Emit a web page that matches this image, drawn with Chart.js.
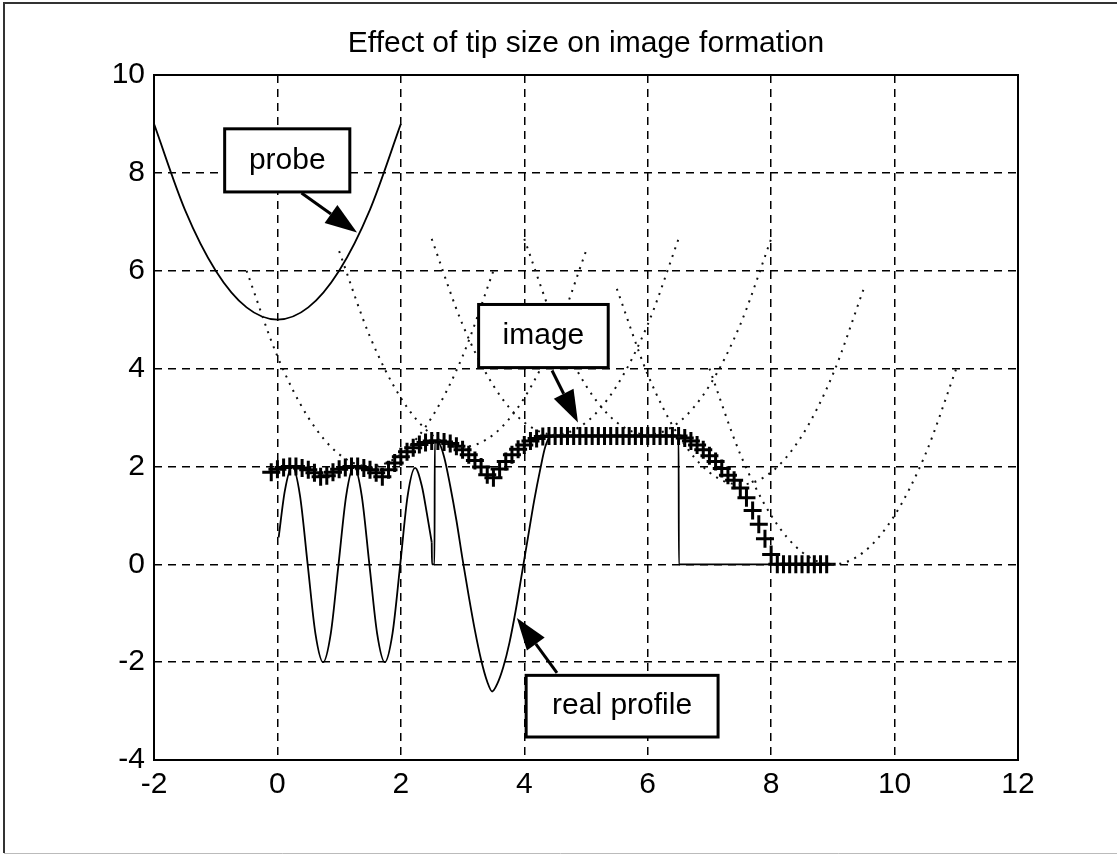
<!DOCTYPE html>
<html>
<head>
<meta charset="utf-8">
<script src="https://cdn.jsdelivr.net/npm/chart.js@4.4.1/dist/chart.umd.min.js"></script>
<style>
  html, body { margin: 0; padding: 0; background: #fff; }
  #wrap { width: 1119px; height: 855px; }
</style>
</head>
<body>
<div id="wrap"><canvas id="tip-chart"></canvas></div>
<script>
// probe drawn on its own (solid)
const probeX = [-2, -1.5, -1, -0.5, 0, 0.5, 1, 1.5, 2];
const probeY = [9, 7.25, 6, 5.25, 5, 5.25, 6, 7.25, 9];

// real surface profile, left part (three narrow ridges)
const profileAX = [0.02, 0.12, 0.24, 0.365, 0.49, 0.615, 0.74, 0.865, 0.99, 1.115, 1.24, 1.365, 1.49, 1.615, 1.74, 1.865, 1.99,
  2.11, 2.23, 2.34, 2.42, 2.5];
const profileAY = [0.55, 1.5, 2.0, 1.41, 0.0, -1.41, -2.0, -1.41, 0.0, 1.41, 2.0, 1.41, 0.0, -1.41, -2.0, -1.41, 0.0,
  1.4, 1.97, 1.6, 1.05, 0.45];
// right part (spike, deep pit, plateau, step)
const profileBX = [2.5, 2.505, 2.545, 2.55, 2.6, 2.7, 2.8, 2.9, 3.0, 3.1, 3.2, 3.3, 3.4, 3.48, 3.56, 3.66, 3.76,
  3.86, 3.96, 4.06, 4.16, 4.26, 4.34, 4.42, 4.5, 5.5, 6.5, 6.505, 8.0];
const profileBY = [0.45, 0, 0, 2.5, 2.5, 2.2, 1.6, 0.9, 0.1, -0.65, -1.35, -1.95, -2.4, -2.6, -2.45, -2.1, -1.6,
  -0.95, -0.2, 0.55, 1.3, 1.95, 2.4, 2.6, 2.62, 2.62, 2.62, 0, 0];

// image traced by the tip apex
const imageX = [-0.1, 0, 0.1, 0.2, 0.3, 0.4, 0.5, 0.6, 0.7, 0.8, 0.9, 1, 1.1, 1.2, 1.3, 1.4, 1.5, 1.6, 1.7, 1.8, 1.9,
  2, 2.1, 2.2, 2.3, 2.4, 2.5, 2.6, 2.7, 2.8, 2.9, 3, 3.1, 3.2, 3.3, 3.4, 3.5, 3.6, 3.7, 3.8, 3.9, 4, 4.1, 4.2, 4.3,
  4.4, 4.5, 4.6, 4.7, 4.8, 4.9, 5, 5.1, 5.2, 5.3, 5.4, 5.5, 5.6, 5.7, 5.8, 5.9, 6, 6.1, 6.2, 6.3, 6.4, 6.5,
  6.6, 6.7, 6.8, 6.9, 7, 7.1, 7.2, 7.3, 7.4, 7.5, 7.6, 7.7, 7.8, 7.9, 8, 8.1, 8.2, 8.3, 8.4, 8.5, 8.6, 8.7, 8.8, 8.9];
const imageY = [1.88, 1.94, 1.98, 2.0, 2.0, 1.97, 1.93, 1.87, 1.79, 1.81, 1.88, 1.94, 1.98, 2.0, 2.0, 1.97, 1.93, 1.87, 1.79, 1.93, 2.07,
  2.2, 2.3, 2.38, 2.45, 2.49, 2.52, 2.52, 2.5, 2.47, 2.41, 2.34, 2.24, 2.12, 1.99, 1.83, 1.77, 1.95, 2.1, 2.24, 2.35, 2.44, 2.52, 2.57, 2.61,
  2.62, 2.62, 2.62, 2.62, 2.62, 2.62, 2.62, 2.62, 2.62, 2.62, 2.62, 2.62, 2.62, 2.62, 2.62, 2.62, 2.62, 2.62, 2.62, 2.62, 2.62, 2.62,
  2.58, 2.52, 2.44, 2.34, 2.22, 2.1, 1.96, 1.82, 1.72, 1.56, 1.36, 1.1, 0.82, 0.52, 0.2, 0, 0, 0, 0, 0, 0, 0, 0, 0];

// probe shown (dotted) at several scan positions
const tip1X = [-0.5, 0, 0.5, 1, 1.5, 2, 2.5, 3, 3.5];
const tip1Y = [6, 4.25, 3, 2.25, 2, 2.25, 3, 4.25, 6];
const tip2X = [1, 1.5, 2, 2.5, 3, 3.5, 4, 4.5, 5];
const tip2Y = [6.4, 4.65, 3.4, 2.65, 2.4, 2.65, 3.4, 4.65, 6.4];
const tip3X = [2.5, 3, 3.5, 4, 4.5, 5, 5.5, 6, 6.5];
const tip3Y = [6.65, 4.9, 3.65, 2.9, 2.65, 2.9, 3.65, 4.9, 6.65];
const tip4X = [4, 4.5, 5, 5.5, 6, 6.5, 7, 7.5, 8];
const tip4Y = [6.65, 4.9, 3.65, 2.9, 2.65, 2.9, 3.65, 4.9, 6.65];
const tip5X = [5.5, 6, 6.5, 7, 7.5, 8, 8.5, 9, 9.5];
const tip5Y = [5.63, 3.88, 2.63, 1.88, 1.63, 1.88, 2.63, 3.88, 5.63];
const tip6X = [7, 7.5, 8, 8.5, 9, 9.5, 10, 10.5, 11];
const tip6Y = [4, 2.25, 1, 0.25, 0, 0.25, 1, 2.25, 4];

const xTicks = [-2, 0, 2, 4, 6, 8, 10, 12];
const yTicks = [-4, -2, 0, 2, 4, 6, 8, 10];

const titleText = 'Effect of tip size on image formation';
// callouts: box corners and arrow ends in data units
const callouts = [
  { text: 'probe', box: [-0.855, 8.9, 1.173, 7.61], from: [0.39, 7.59], to: [1.29, 6.78] },
  { text: 'image', box: [3.26, 5.31, 5.36, 4.02], from: [4.45, 3.96], to: [4.87, 2.9] },
  { text: 'real profile', box: [4.03, -2.27, 7.14, -3.53], from: [4.53, -2.22], to: [3.88, -1.1] }
];

const FONT = "'Liberation Sans', Arial, Helvetica, sans-serif";

function pts(xs, ys) {
  return xs.map((x, i) => ({ x: x, y: ys[i] }));
}

function dotted(xs, ys) {
  return {
    data: pts(xs, ys),
    showLine: true,
    borderColor: '#111',
    borderWidth: 2,
    borderDash: [2, 6],
    pointRadius: 0,
    cubicInterpolationMode: 'monotone'
  };
}

function solid(xs, ys) {
  return {
    data: pts(xs, ys),
    showLine: true,
    borderColor: '#000',
    borderWidth: 1.8,
    pointRadius: 0,
    cubicInterpolationMode: 'monotone'
  };
}

const decor = {
  id: 'decor',
  beforeDraw(chart) {
    const c = chart.ctx;
    c.save();
    c.fillStyle = '#fff';
    c.fillRect(0, 0, chart.width, chart.height);
    c.restore();
  },
  afterDatasetsDraw(chart) {
    const c = chart.ctx;
    const xs = chart.scales.x, ys = chart.scales.y;
    const a = chart.chartArea;
    c.save();
    // axes box
    c.strokeStyle = '#000';
    c.lineWidth = 2;
    c.strokeRect(a.left, a.top, a.right - a.left, a.bottom - a.top);

    callouts.forEach(k => {
      const x1 = xs.getPixelForValue(k.box[0]), y1 = ys.getPixelForValue(k.box[1]);
      const x2 = xs.getPixelForValue(k.box[2]), y2 = ys.getPixelForValue(k.box[3]);
      c.fillStyle = '#fff';
      c.fillRect(x1, y1, x2 - x1, y2 - y1);
      c.lineWidth = 3;
      c.strokeStyle = '#000';
      c.strokeRect(x1, y1, x2 - x1, y2 - y1);
      c.fillStyle = '#000';
      c.font = '30px ' + FONT;
      c.textAlign = 'center';
      c.textBaseline = 'middle';
      c.fillText(k.text, (x1 + x2) / 2, (y1 + y2) / 2);

      // arrow
      const fx = xs.getPixelForValue(k.from[0]), fy = ys.getPixelForValue(k.from[1]);
      const tx = xs.getPixelForValue(k.to[0]), ty = ys.getPixelForValue(k.to[1]);
      const ang = Math.atan2(ty - fy, tx - fx);
      const hl = 32, hw = 11;
      const bx = tx - hl * Math.cos(ang), by = ty - hl * Math.sin(ang);
      c.beginPath();
      c.moveTo(fx, fy);
      c.lineTo(bx, by);
      c.lineWidth = 3;
      c.stroke();
      c.beginPath();
      c.moveTo(tx, ty);
      c.lineTo(bx + hw * Math.sin(ang), by - hw * Math.cos(ang));
      c.lineTo(bx - hw * Math.sin(ang), by + hw * Math.cos(ang));
      c.closePath();
      c.fill();
    });

    // title
    c.fillStyle = '#000';
    c.font = '30px ' + FONT;
    c.textAlign = 'center';
    c.textBaseline = 'alphabetic';
    c.fillText(titleText, (a.left + a.right) / 2, 52);

    // figure frame
    c.strokeStyle = '#333';
    c.lineWidth = 2;
    c.beginPath();
    c.moveTo(4, 853);
    c.lineTo(4, 3);
    c.lineTo(1117, 3);
    c.stroke();
    c.strokeStyle = '#bbb';
    c.lineWidth = 1;
    c.beginPath();
    c.moveTo(4, 853.5);
    c.lineTo(1117, 853.5);
    c.stroke();
    c.restore();
  }
};

new Chart(document.getElementById('tip-chart'), {
  type: 'scatter',
  data: {
    datasets: [
      dotted(tip1X, tip1Y),
      dotted(tip2X, tip2Y),
      dotted(tip3X, tip3Y),
      dotted(tip4X, tip4Y),
      dotted(tip5X, tip5Y),
      dotted(tip6X, tip6Y),
      solid(probeX, probeY),
      solid(profileAX, profileAY),
      solid(profileBX, profileBY),
      {
        data: pts(imageX, imageY),
        showLine: false,
        pointStyle: 'cross',
        pointRadius: 9,
        pointBorderWidth: 3,
        borderColor: '#000',
        backgroundColor: '#000'
      }
    ]
  },
  options: {
    responsive: true,
    maintainAspectRatio: false,
    animation: false,
    layout: { padding: { left: 0, right: 101, top: 75, bottom: 0 } },
    plugins: {
      legend: { display: false },
      title: { display: false },
      tooltip: { enabled: false }
    },
    scales: {
      x: {
        type: 'linear',
        min: -2,
        max: 12,
        afterFit(s) { s.height = 95; },
        afterBuildTicks(s) { s.ticks = xTicks.map(v => ({ value: v })); },
        ticks: { color: '#000', font: { family: FONT, size: 30 }, padding: 7, maxRotation: 0 },
        grid: { color: '#000', lineWidth: 1.5, drawTicks: false },
        border: { display: false, dash: [8, 6] }
      },
      y: {
        type: 'linear',
        min: -4,
        max: 10,
        afterFit(s) { s.width = 154; },
        afterBuildTicks(s) { s.ticks = yTicks.map(v => ({ value: v })); },
        ticks: { color: '#000', font: { family: FONT, size: 30 }, padding: 9 },
        grid: { color: '#000', lineWidth: 1.5, drawTicks: false },
        border: { display: false, dash: [8, 6] }
      }
    }
  },
  plugins: [decor]
});
</script>
</body>
</html>
